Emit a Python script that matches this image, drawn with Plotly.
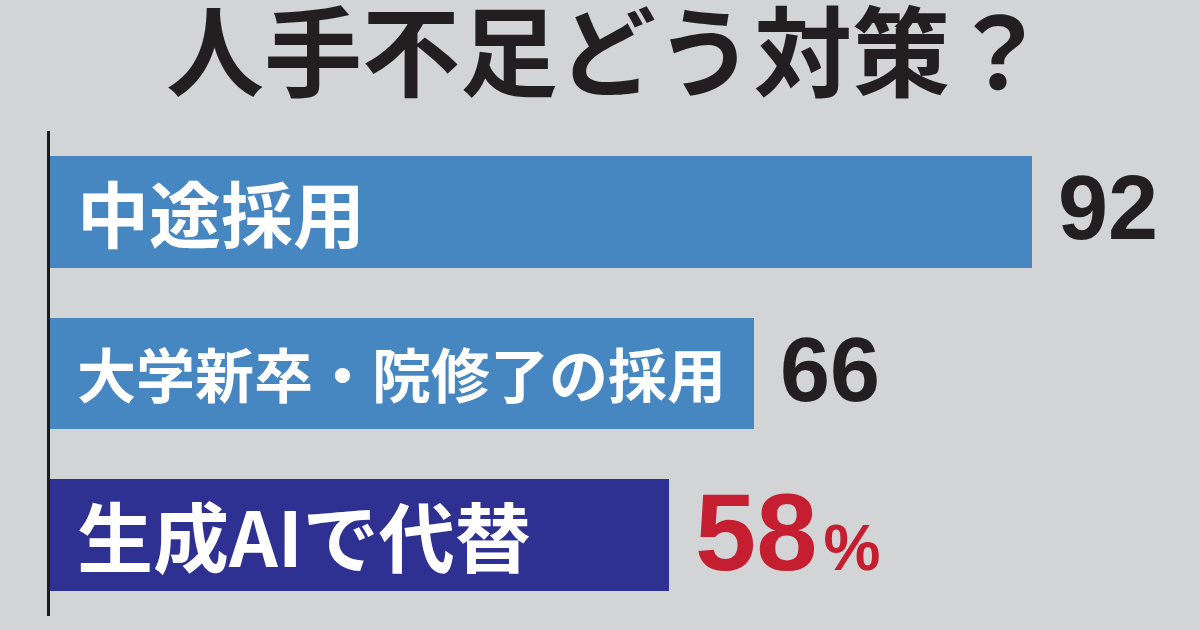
import plotly.graph_objects as go

# survey answers (%), top to bottom
categories = ["中途採用", "大学新卒・院修了の採用", "生成AIで代替"]
values = [92, 66, 58]
bar_colors = ["#4687c1", "#4687c1", "#2e3192"]
value_colors = ["#231f20", "#231f20", "#c41e30"]
value_sizes = [90, 90, 110]
value_suffix = ["", "", "%"]
label_sizes = [72, 59, 76]

title = "人手不足どう対策？"

BG = "#d3d4d6"
CJK = "Noto Sans CJK JP"
NUM = "Liberation Sans"

fig = go.Figure()
fig.add_trace(go.Bar(
    x=values,
    y=categories,
    orientation="h",
    marker=dict(color=bar_colors, line=dict(width=0)),
    width=0.69,
    hoverinfo="skip",
))

# category labels inside bars
for cat, sz in zip(categories, label_sizes):
    fig.add_annotation(
        x=0, y=cat, xref="x", yref="y",
        text=cat, showarrow=False,
        xanchor="left", yanchor="middle", xshift=25, yshift=1,
        font=dict(family=CJK, size=sz, color="white", weight="bold"),
    )

# values right of bars
for cat, v, c, sz, s in zip(categories, values, value_colors, value_sizes, value_suffix):
    txt = f"{v}"
    if s:
        txt += f"<span style='font-size:30px'>\u2009</span><span style='font-size:64px'>{s}</span>"
    fig.add_annotation(
        x=v, y=cat, xref="x", yref="y",
        text=txt, showarrow=False,
        xanchor="left", yanchor="middle", xshift=24, yshift=4,
        font=dict(family=NUM, size=sz, color=c, weight="bold"),
    )

fig.add_annotation(
    x=0.5, y=1.175, xref="paper", yref="paper",
    text=title, showarrow=False,
    xanchor="center", yanchor="middle", xshift=-18,
    font=dict(family=CJK, size=98, color="#231f20", weight="bold"),
)

fig.update_layout(
    width=1200, height=630,
    margin=dict(l=50, r=0, t=131, b=14),
    paper_bgcolor=BG, plot_bgcolor=BG,
    showlegend=False,
    bargap=0,
)
fig.update_xaxes(range=[0, 107.74], visible=False, fixedrange=True)
fig.update_yaxes(
    autorange="reversed", showticklabels=False, ticks="",
    showgrid=False, zeroline=False, fixedrange=True,
    showline=True, linewidth=3, linecolor="#1a1a1a",
)

fig.write_html(
    "out.html",
    config={"displayModeBar": False},
    post_script="document.body.style.margin='0px';",
)
